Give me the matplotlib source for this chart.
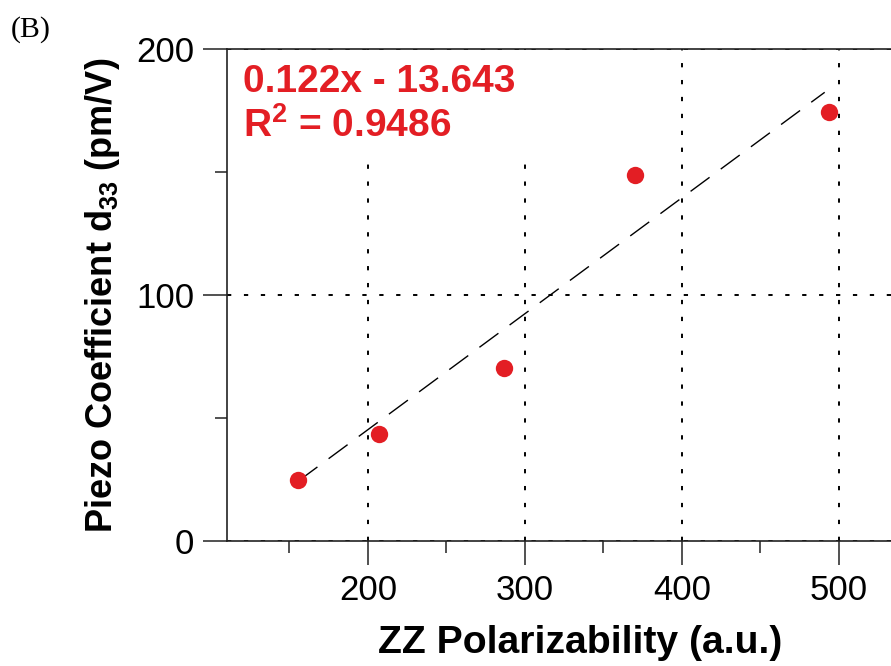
import numpy as np
import matplotlib
matplotlib.use("Agg")
import matplotlib.pyplot as plt

#%% data
zz_polarizability = [155.7, 207.0, 286.7, 370.3, 493.9]   # a.u.
piezo_d33 = [24.8, 43.4, 70.4, 148.8, 174.5]              # pm/V

# dashed trend line, two ends
fit_x = [155.7, 491.0]
fit_y = [24.4, 182.4]

fit_label = "0.122x - 13.643"
r2_label = "0.9486"

x_major = [200, 300, 400, 500]
x_minor = [150, 250, 350, 450, 550]
y_major = [0, 100, 200]
y_minor = [50, 150]

red = '#e31e24'

plt.rcParams['font.family'] = 'Liberation Sans'
plt.rcParams['mathtext.fontset'] = 'custom'
plt.rcParams['mathtext.rm'] = 'Liberation Sans'
plt.rcParams['mathtext.bf'] = 'Liberation Sans:bold'

fig = plt.figure(figsize=(8.91, 6.66), dpi=100)
# axes runs a bit past the right edge of the picture, like the original crop
ax = fig.add_axes([226.7/891, 1-541/666, 706.3/891, 492/666])

ax.set_xlim(110, 560)
ax.set_ylim(0, 200)

#%% grid: dotted, only the major ones
ax.set_axisbelow(True)
ax.grid(True, which='major', color='black', linestyle=(0, (2.2, 6.5)), linewidth=1.4)

#%% data + trend line
ax.plot(fit_x, fit_y, color='black', linewidth=1.0, dashes=(17, 10), zorder=2)
ax.plot(zz_polarizability, piezo_d33, 'o', color=red, markersize=12.5,
        markeredgewidth=0, zorder=2.1)

#%% ticks and spines
ax.set_xticks(x_major)
ax.set_xticks(x_minor, minor=True)
ax.set_yticks(y_major)
ax.set_yticks(y_minor, minor=True)
ax.tick_params(which='major', direction='out', length=17.5, width=1.1,
               labelsize=25, pad=6, color='#222222')
ax.tick_params(which='minor', direction='out', length=8.8, width=1.1, color='#222222')
for side in ['left', 'bottom', 'top', 'right']:
    ax.spines[side].set_linewidth(1.2)
    ax.spines[side].set_color('#222222')

ax.set_xlabel('ZZ Polarizability (a.u.)', fontsize=28.2, fontweight='bold', labelpad=13)
ax.set_ylabel(r'Piezo Coefficient d$_\mathbf{33}$ (pm/V)', fontsize=26,
              fontweight='bold', labelpad=10)

#%% fit equation, white box hides the grid behind it
ax.text(0.0235, 0.97,
        fit_label + '\n' + r'R$^\mathbf{2}$ = ' + r2_label,
        transform=ax.transAxes, ha='left', va='top', color=red,
        fontsize=28, fontweight='bold', linespacing=1.25, zorder=2.2,
        bbox=dict(boxstyle='square,pad=0.35', facecolor='white', edgecolor='none'))

fig.text(11/891, 1-37/666, '(B)', family='Liberation Serif', fontsize=21.5,
         ha='left', va='baseline')

fig.savefig('out.png', dpi=100)
